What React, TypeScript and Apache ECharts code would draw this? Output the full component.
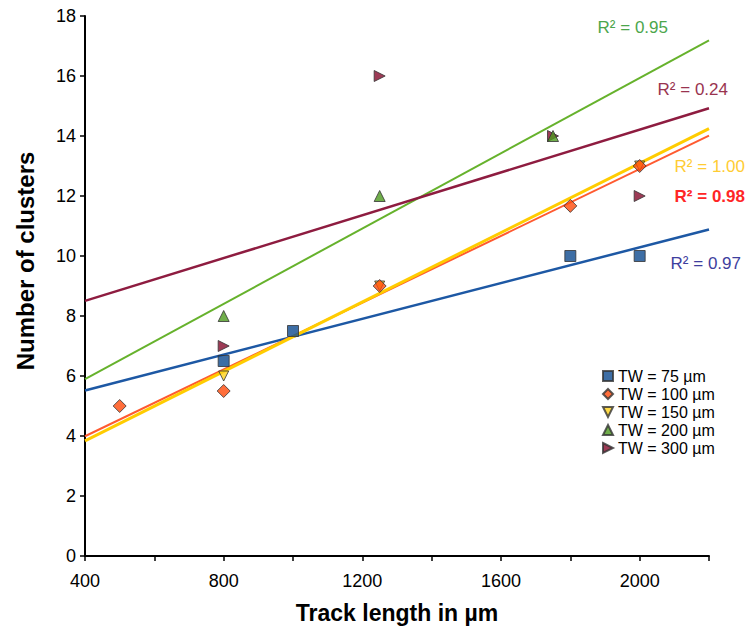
import React, { useEffect, useRef } from "react";
import * as echarts from "echarts";

// Track length (µm) and number of clusters for each track width
const tw75X = [800, 1000, 1800, 2000];
const tw75Y = [6.5, 7.5, 10, 10];
const tw100X = [500, 800, 1250, 1800, 2000];
const tw100Y = [5, 5.5, 9, 11.67, 13];
const tw150X = [800, 1250, 2000];
const tw150Y = [6, 9, 13];
const tw200X = [800, 1250, 1750];
const tw200Y = [8, 12, 14];
const tw300X = [800, 1250, 1750, 2000];
const tw300Y = [7, 16, 14, 12];

const seriesNames = ["TW = 75 µm", "TW = 100 µm", "TW = 150 µm", "TW = 200 µm", "TW = 300 µm"];
const xTickLabels = [400, 800, 1200, 1600, 2000];

const FONT = "'Liberation Sans', Arial, sans-serif";

// Least-squares fit y = a + b x with coefficient of determination
function fit(xs: number[], ys: number[]) {
  const n = xs.length;
  const mx = xs.reduce((s, v) => s + v, 0) / n;
  const my = ys.reduce((s, v) => s + v, 0) / n;
  let sxy = 0, sxx = 0, syy = 0;
  for (let i = 0; i < n; i++) {
    sxy += (xs[i] - mx) * (ys[i] - my);
    sxx += (xs[i] - mx) ** 2;
    syy += (ys[i] - my) ** 2;
  }
  const b = sxy / sxx;
  const a = my - b * mx;
  const r2 = (sxy * sxy) / (sxx * syy);
  return { a, b, r2 };
}

// Label anchors give the right edge of each R² text
const groups = [
  { name: seriesNames[0], xs: tw75X, ys: tw75Y, symbol: "rect", size: 11, fill: "#0E4A8E", line: "#1D58A4", lw: 2.5, label: "#3E3E9E", rx: 741, ly: 263, bold: false },
  { name: seriesNames[1], xs: tw100X, ys: tw100Y, symbol: "diamond", size: 13, fill: "#FF4A0A", line: "#FF5A30", lw: 2, label: "#FF2626", rx: 745, ly: 196, bold: true },
  { name: seriesNames[2], xs: tw150X, ys: tw150Y, symbol: "path://M0,0 L10,0 L5,10 Z", size: 10, fill: "#FFD21A", line: "#FFCC00", lw: 3, label: "#FFCC33", rx: 745, ly: 166, bold: false },
  { name: seriesNames[3], xs: tw200X, ys: tw200Y, symbol: "triangle", size: 11, fill: "#4C9A1E", line: "#66B22C", lw: 2, label: "#4CA64C", rx: 668, ly: 27, bold: false },
  { name: seriesNames[4], xs: tw300X, ys: tw300Y, symbol: "path://M0,0 L10,5 L0,10 Z", size: 11, fill: "#850A2C", line: "#8E1C40", lw: 2.5, label: "#99334F", rx: 728, ly: 89, bold: false },
];

const X_MIN = 400;
const X_MAX = 2200;

export default function App() {
  const ref = useRef<HTMLDivElement>(null);

  useEffect(() => {
    if (!ref.current) return;
    const chart = echarts.init(ref.current, undefined, { renderer: "svg" });

    const fits = groups.map((g) => fit(g.xs, g.ys));

    const trendSeries = groups.map((g, i) => ({
      name: g.name + " trend",
      type: "line",
      data: [
        [X_MIN, fits[i].a + fits[i].b * X_MIN],
        [X_MAX, fits[i].a + fits[i].b * X_MAX],
      ],
      showSymbol: false,
      symbol: "none",
      silent: true,
      z: 2,
      lineStyle: { color: g.line, width: g.lw },
    }));

    const scatterSeries = groups.map((g, i) => ({
      name: g.name,
      type: "scatter",
      data: g.xs.map((x, j) => [x, g.ys[j]]),
      symbol: g.symbol,
      symbolSize: g.size,
      z: 10 - i,
      itemStyle: { color: g.fill, borderColor: "#333333", borderWidth: 1 },
    }));

    const r2Labels = groups.map((g, i) => ({
      type: "text",
      x: g.rx,
      y: g.ly,
      style: {
        text: "R² = " + fits[i].r2.toFixed(2),
        fill: g.label,
        font: `${g.bold ? "bold " : ""}17px ${FONT}`,
        align: "right",
        verticalAlign: "middle",
      },
    }));

    const axisTitles = [
      {
        type: "text",
        x: 397,
        y: 613,
        style: {
          text: "Track length in µm",
          fill: "#000",
          font: `bold 23px ${FONT}`,
          align: "center",
          verticalAlign: "middle",
        },
      },
      {
        type: "text",
        x: 25,
        y: 261,
        rotation: Math.PI / 2,
        style: {
          text: "Number of clusters",
          fill: "#000",
          font: `bold 24px ${FONT}`,
          align: "center",
          verticalAlign: "middle",
        },
      },
    ];

    chart.setOption({
      animation: false,
      backgroundColor: "#ffffff",
      grid: { left: 85, top: 16, right: 39, bottom: 75, containLabel: false },
      xAxis: {
        type: "value",
        min: X_MIN,
        max: X_MAX,
        interval: 200,
        axisLine: { show: true, lineStyle: { color: "#000", width: 2 } },
        axisTick: { show: true, length: 5, lineStyle: { color: "#000", width: 1.5 } },
        axisLabel: {
          fontFamily: FONT,
          fontSize: 18,
          color: "#000",
          margin: 16,
          formatter: (v: number) => (xTickLabels.includes(v) ? String(v) : ""),
        },
        splitLine: { show: false },
      },
      yAxis: {
        type: "value",
        min: 0,
        max: 18,
        interval: 2,
        axisLine: { show: true, lineStyle: { color: "#000", width: 2 } },
        axisTick: { show: true, length: 5, lineStyle: { color: "#000", width: 1.5 } },
        axisLabel: { fontFamily: FONT, fontSize: 18, color: "#000", margin: 9 },
        splitLine: { show: false },
      },
      legend: {
        data: seriesNames,
        orient: "vertical",
        left: 597,
        top: 363,
        itemWidth: 10,
        itemHeight: 10,
        itemGap: 2,
        textStyle: { fontFamily: FONT, fontSize: 16, lineHeight: 16, color: "#000", padding: [0, 0, 0, 0] },
      },
      graphic: [...r2Labels, ...axisTitles],
      series: [...trendSeries, ...scatterSeries],
    });

    return () => chart.dispose();
  }, []);

  return (
    <div
      ref={ref}
      style={{ position: "fixed", left: 0, top: 0, width: 748, height: 631 }}
    />
  );
}
